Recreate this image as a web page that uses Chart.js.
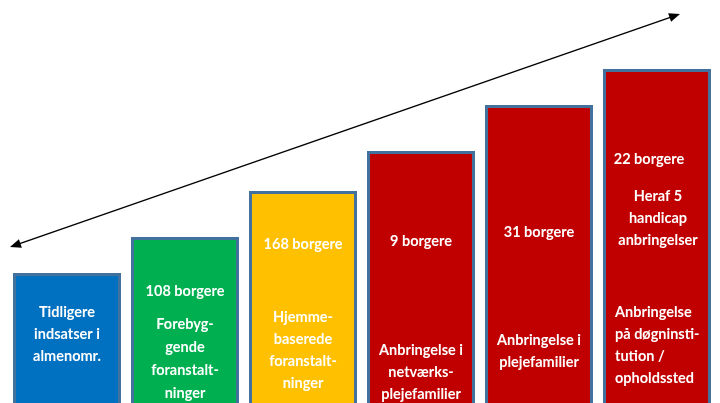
<!DOCTYPE html>
<html>
<head>
<meta charset="utf-8">
<script src="https://cdn.jsdelivr.net/npm/chart.js@4"></script>
<style>
  body { margin: 0; background: #fff; }
  canvas { display: block; }
</style>
</head>
<body>
<canvas id="myChart" width="720" height="403"></canvas>
<script>
// data
var categories = [
  ["Tidligere", "indsatser i", "almenomr."],
  ["Forebyg-", "gende", "foranstalt-", "ninger"],
  ["Hjemme-", "baserede", "foranstalt-", "ninger"],
  ["Anbringelse i", "netværks-", "plejefamilier"],
  ["Anbringelse i", "plejefamilier"],
  ["Anbringelse", "på døgninsti-", "tution /", "opholdssted"]
];
var borgere = [null, 108, 168, 9, 31, 22];
var notes = [null, null, null, null, null, ["Heraf 5", "handicap", "anbringelser"]];
var stepHeights = [130, 166, 212, 252, 298, 334];
var barColors = ["#0070C0", "#00B050", "#FFC000", "#C00000", "#C00000", "#C00000"];

// text placement (pixels)
var countY = [null, 291, 244, 241, 232, 159];
var noteY = [null, null, null, null, null, 196];
var descY = [312, 324, 317, 350, 340, 312];
var lineH = 22;

var barText = {
  id: "barText",
  afterDatasetsDraw: function(chart) {
    var ctx = chart.ctx;
    var meta = chart.getDatasetMeta(0);
    ctx.save();
    ctx.fillStyle = "#fff";
    ctx.font = "bold 14.5px Lato, 'Open Sans', sans-serif";
    ctx.textBaseline = "middle";
    for (var i = 0; i < meta.data.length; i++) {
      var bar = meta.data[i];
      var left = bar.x - bar.width / 2;
      if (borgere[i] !== null) {
        ctx.textAlign = "center";
        var cx = i === 5 ? bar.x - 8 : bar.x;
        ctx.fillText(borgere[i] + " borgere", cx, countY[i]);
      }
      if (notes[i]) {
        ctx.textAlign = "center";
        for (var n = 0; n < notes[i].length; n++) {
          ctx.fillText(notes[i][n], bar.x + 1, noteY[i] + n * lineH);
        }
      }
      var lines = categories[i];
      var lh = i === 1 ? 23 : lineH;
      for (var k = 0; k < lines.length; k++) {
        if (i === 5) {
          ctx.textAlign = "left";
          ctx.fillText(lines[k], left + 12, descY[i] + k * lh);
        } else {
          ctx.textAlign = "center";
          ctx.fillText(lines[k], bar.x, descY[i] + k * lh);
        }
      }
    }
    ctx.restore();
  }
};

function arrowHead(ctx, x, y, ang) {
  var len = 11, half = 4.5;
  ctx.beginPath();
  ctx.moveTo(x, y);
  ctx.lineTo(x - len * Math.cos(ang) + half * Math.sin(ang), y - len * Math.sin(ang) - half * Math.cos(ang));
  ctx.lineTo(x - len * Math.cos(ang) - half * Math.sin(ang), y - len * Math.sin(ang) + half * Math.cos(ang));
  ctx.closePath();
  ctx.fill();
}

var growthArrow = {
  id: "growthArrow",
  afterDraw: function(chart) {
    var ctx = chart.ctx;
    var x1 = 10, y1 = 247, x2 = 680, y2 = 14;
    var ang = Math.atan2(y2 - y1, x2 - x1);
    ctx.save();
    ctx.strokeStyle = "#000";
    ctx.fillStyle = "#000";
    ctx.lineWidth = 1.5;
    ctx.beginPath();
    ctx.moveTo(x1 + 8 * Math.cos(ang), y1 + 8 * Math.sin(ang));
    ctx.lineTo(x2 - 8 * Math.cos(ang), y2 - 8 * Math.sin(ang));
    ctx.stroke();
    arrowHead(ctx, x2, y2, ang);
    arrowHead(ctx, x1, y1, ang + Math.PI);
    ctx.restore();
  }
};

var ctx = document.getElementById("myChart").getContext("2d");
var chart = new Chart(ctx, {
  type: "bar",
  data: {
    labels: categories,
    datasets: [{
      data: stepHeights,
      backgroundColor: barColors,
      borderColor: "#41719C",
      borderWidth: 3,
      borderSkipped: "bottom",
      barPercentage: 0.915,
      categoryPercentage: 1
    }]
  },
  options: {
    responsive: false,
    animation: false,
    layout: { padding: { left: 8, right: 4, top: 0, bottom: 0 } },
    plugins: {
      legend: { display: false },
      tooltip: { enabled: false }
    },
    scales: {
      x: { display: false },
      y: { display: false, min: 0, max: 403 }
    }
  },
  plugins: [barText, growthArrow]
});
</script>
</body>
</html>
